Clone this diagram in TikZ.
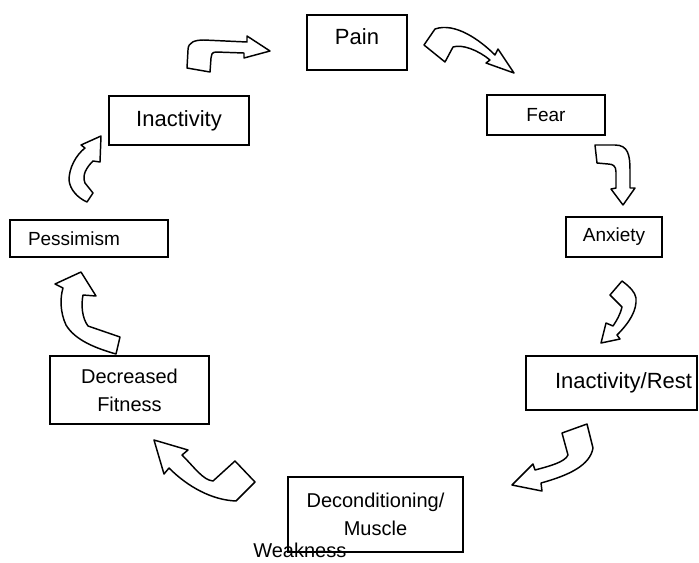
\documentclass[tikz,border=0pt]{standalone}
\usepackage{fontspec}
\setmainfont{Liberation Sans}
\usetikzlibrary{positioning}
\tikzset{
  boxstyle/.style={rectangle, draw=black, line width=1.1pt, inner sep=0pt, align=center},
  arrowstyle/.style={draw=black, line width=1.1pt, fill=white, line join=round},
  bigtext/.style={font=\fontsize{16.5}{21}\selectfont},
  midtext/.style={font=\fontsize{15}{21}\selectfont},
  smalltext/.style={font=\fontsize{14.25}{18}\selectfont}
}

\begin{document}
\begin{tikzpicture}[x=0.75pt,y=-0.75pt]
  \useasboundingbox (0,0) rectangle (699,562);
  \node[boxstyle, bigtext, text depth=9pt, minimum width=75pt, minimum height=41.25pt] (pain) at (357,42.5) {Pain};
  \node[boxstyle, smalltext, minimum width=88.5pt, minimum height=30pt] (fear) at (546,115) {Fear};
  \node[boxstyle, smalltext, minimum width=72pt, minimum height=30pt] (anxiety) at (614,237) {Anxiety};
  \node[boxstyle, bigtext, inner xsep=3.75pt, text width=120.75pt, align=right, minimum height=40.5pt] (inactrest) at (611.5,383) {Inactivity/Rest};
  \node[boxstyle, midtext, minimum width=131.25pt, minimum height=56.25pt] (decond) at (375.5,514.5) {Deconditioning/\\Muscle};
  \node[midtext, anchor=base west, inner sep=0pt] (weak) at (253,557) {Weakness};
  \node[boxstyle, midtext, minimum width=119.25pt, minimum height=51pt] (fitness) at (129.5,390) {Decreased\\Fitness};
  \node[boxstyle, smalltext, inner xsep=13.5pt, text width=91.5pt, align=left, minimum height=27.75pt] (pessim) at (89,238.5) {Pessimism};
  \node[boxstyle, bigtext, minimum width=105pt, minimum height=36.75pt] (inact) at (179,120.5) {Inactivity};

  % curved block arrows
  \draw[arrowstyle] (187,68) -- (188,50) .. controls (188,42) and (195,40) .. (204,40)
    -- (247,42) -- (247,36) -- (270,51) -- (244,58) -- (244,53) -- (216,52)
    .. controls (212,52) and (211,55) .. (211,58) -- (210,72) -- cycle;
  \draw[arrowstyle] (424,45) -- (435,29) .. controls (455,22) and (480,40) .. (495,55)
    -- (498,49) -- (514,73) -- (486,63) -- (490,60)
    .. controls (478,50) and (462,44) .. (453,47) -- (445,62) -- cycle;
  \draw[arrowstyle] (595,145) -- (615,145) .. controls (628,145) and (630,155) .. (630,170)
    -- (630,188) -- (635,188) -- (623,205) -- (611,189) -- (616,188) -- (616,172)
    .. controls (616,166) and (613,164) .. (608,164) -- (597,163) -- cycle;
  \draw[arrowstyle] (622,281) -- (610,295) -- (622,307)
    .. controls (620,315) and (617,320) .. (613,326) -- (606,323) -- (601,343)
    -- (620,339) -- (617,335) .. controls (630,322) and (637,310) .. (636,298)
    .. controls (635,292) and (630,287) .. cycle;
  \draw[arrowstyle] (562,433) -- (587,424) -- (593,448)
    .. controls (590,465) and (570,475) .. (541,483) -- (542,491) -- (512,485)
    -- (533,464) -- (535,470) .. controls (550,466) and (565,462) .. (568,455) -- cycle;
  \draw[arrowstyle] (154,440) -- (188,450) -- (182,455)
    .. controls (195,468) and (203,480) .. (213,481) -- (235,461) -- (255,482) -- (236,501)
    .. controls (212,500) and (188,487) .. (169,468) -- (164,474) -- cycle;
  \draw[arrowstyle] (81,272) -- (96,296) -- (83,295)
    .. controls (81,305) and (82,318) .. (88,326) -- (120,337) -- (116,354)
    .. controls (95,348) and (75,340) .. (66,325) .. controls (60,312) and (60,298) .. (63,288)
    -- (55,284) -- cycle;
  \draw[arrowstyle] (101,136) -- (100,162) -- (93,161)
    .. controls (86,168) and (82,175) .. (85,183) -- (93,193) -- (87,202)
    .. controls (78,198) and (70,190) .. (69,180) .. controls (69,168) and (76,155) .. (85,148)
    -- (81,145) -- cycle;
\end{tikzpicture}
\end{document}
